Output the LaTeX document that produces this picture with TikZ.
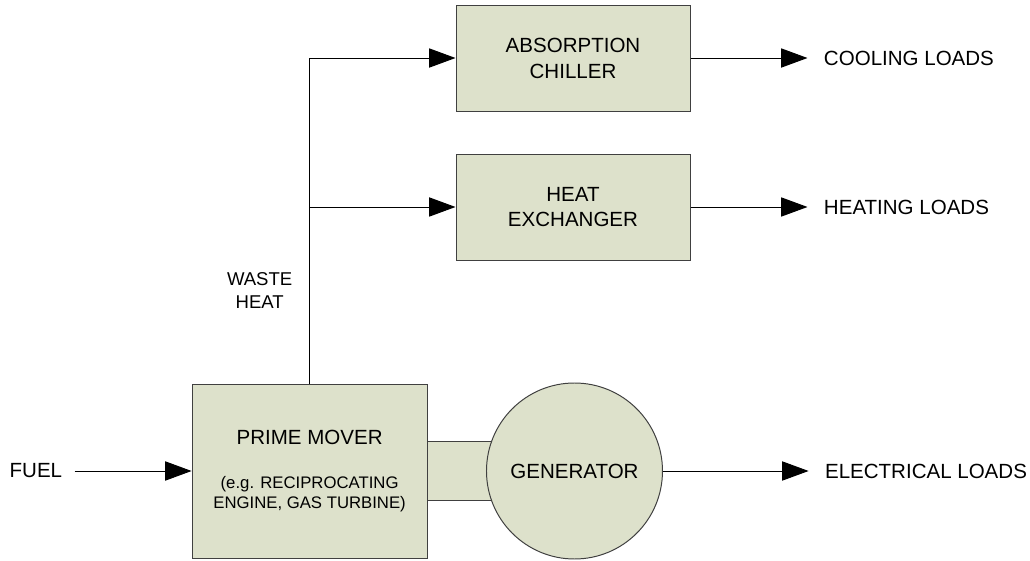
\documentclass[tikz,border=0pt]{standalone}
\usepackage{fontspec}
\setmainfont{Liberation Sans}
\usetikzlibrary{positioning, arrows.meta, backgrounds, calc}
\definecolor{boxFill}{HTML}{DDE1CB}
\definecolor{boxLine}{HTML}{404040}
\newcommand{\notefont}{\fontsize{11.9pt}{13.2pt}\selectfont}

\begin{document}
\begin{tikzpicture}[font=\fontsize{14.6pt}{18.4pt}\selectfont, line width=0.7pt,
    unit/.style={draw=boxLine, fill=boxFill, align=center,
                 minimum width=5.85cm, minimum height=2.65cm},
    flow/.style={-{Triangle[length=0.66cm, width=0.48cm]}},
    load/.style={inner sep=0pt, inner xsep=0.4cm}]
    \useasboundingbox (0,0) rectangle (25.75,14);
    \node[unit, minimum width=5.875cm, minimum height=4.35cm] (pm) at (7.74,2.225)
      {PRIME MOVER\\[13pt]{\notefont (e.g. RECIPROCATING}\\[-4.8pt]{\notefont ENGINE, GAS TURBINE)}};
    \node[unit, circle, minimum size=4.4cm, right=1.46cm of pm] (gen) {GENERATOR};
    \node[unit] (hx) at (14.325,8.825) {HEAT\\EXCHANGER};
    \node[unit, above=1.05cm of hx] (chiller) {ABSORPTION\\CHILLER};
    % shaft between prime mover and generator
    \begin{scope}[on background layer]
      \draw[fill=boxFill, draw=boxLine] ([yshift=0.74cm]pm.east) rectangle ([yshift=-0.74cm]gen.center);
    \end{scope}
    \node[load, inner xsep=0.3cm, left=2.925cm of pm] (fuel) {FUEL};
    \node[load, anchor=west, right=2.925cm of chiller] (cool) {COOLING LOADS};
    \node[load, anchor=west, right=2.925cm of hx] (heat) {HEATING LOADS};
    \node[load, anchor=west, right=3.64cm of gen] (elec) {ELECTRICAL LOADS};
    \node[anchor=east, align=center, inner sep=0pt, font=\fontsize{13.2pt}{16.7pt}\selectfont]
      (waste) at ([shift={(-0.42cm,2.33cm)}]pm.north) {WASTE\\HEAT};
    \draw[flow] (fuel) -- (pm);
    \draw[flow] (pm.north) |- (chiller.west);
    \draw[flow] (pm.north |- hx.west) -- (hx.west);
    \draw[flow] (chiller) -- (cool);
    \draw[flow] (hx) -- (heat);
    \draw[flow] (gen) -- (elec);
  \end{tikzpicture}
\end{document}
